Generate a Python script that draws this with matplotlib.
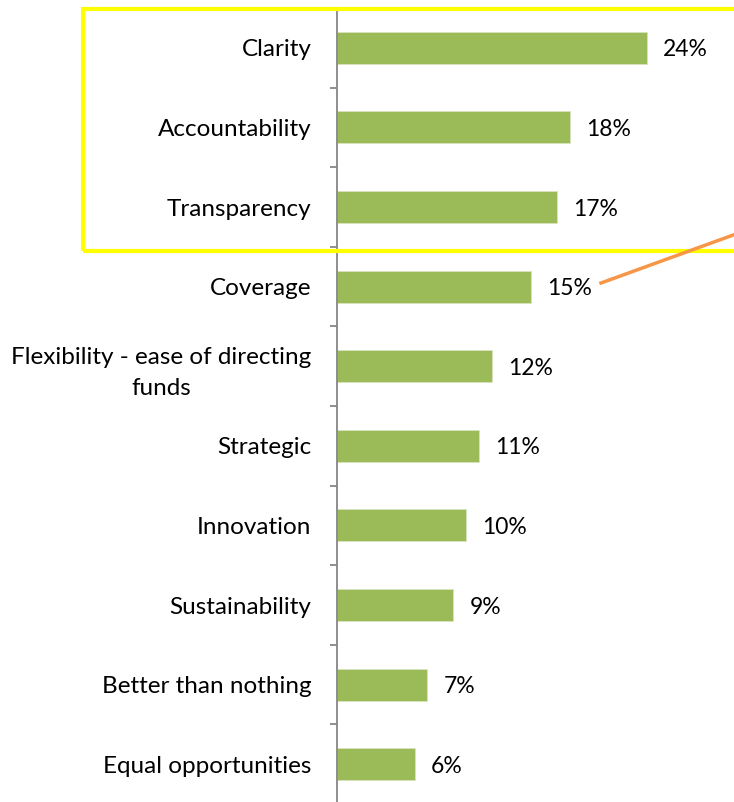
import numpy as np
import matplotlib.pyplot as plt
from matplotlib.patches import Rectangle
from matplotlib.lines import Line2D

categories = ["Clarity", "Accountability", "Transparency", "Coverage",
              "Flexibility - ease of directing\nfunds", "Strategic", "Innovation",
              "Sustainability", "Better than nothing", "Equal opportunities"]
values = [24, 18, 17, 15, 12, 11, 10, 9, 7, 6]

W, H = 734, 802
fig = plt.figure(figsize=(W / 100, H / 100), dpi=100)

# axis from x=337px, 12.92 px per percent; rows span y=8..804 px
ax = fig.add_axes([337 / W, (H - 804) / H, (W - 337) / W, 796 / H])
ax.set_xlim(0, (W - 337) / 12.92)
ax.set_ylim(len(values) - 0.5, -0.5)

y = np.arange(len(values))
ax.barh(y, values, height=0.4, color="#9BBB59", edgecolor="#D7E4BD", linewidth=0.6)

for yi, v in zip(y, values):
    ax.text(v + 1.25, yi, f"{v}%", va="center_baseline", ha="left", fontsize=16.5,
            family="Lato", color="#000000")

for s in ["top", "right", "bottom"]:
    ax.spines[s].set_visible(False)
ax.spines["left"].set_color("#868686")
ax.spines["left"].set_linewidth(1.3)
ax.set_xticks([])

ax.set_yticks(y)
ax.set_yticklabels(categories, fontsize=17.5, family="Lato", multialignment="center",
                   linespacing=1.6)
ax.tick_params(axis="y", which="major", length=0, pad=18.5)
ax.set_yticks(np.arange(len(values) + 1) - 0.5, minor=True)
ax.tick_params(axis="y", which="minor", length=5, width=1.3, color="#868686")

# highlight box and pointer line
fig.add_artist(Rectangle((83 / W, (H - 251) / H), (737 - 83) / W, (251 - 9) / H,
                         transform=fig.transFigure, fill=False,
                         edgecolor="#FFFF00", linewidth=3))
fig.add_artist(Line2D([601 / W, 736 / W], [(H - 283) / H, (H - 234) / H],
                      transform=fig.transFigure, color="#F79646", linewidth=2.5))

fig.savefig("out.png", dpi=100)
